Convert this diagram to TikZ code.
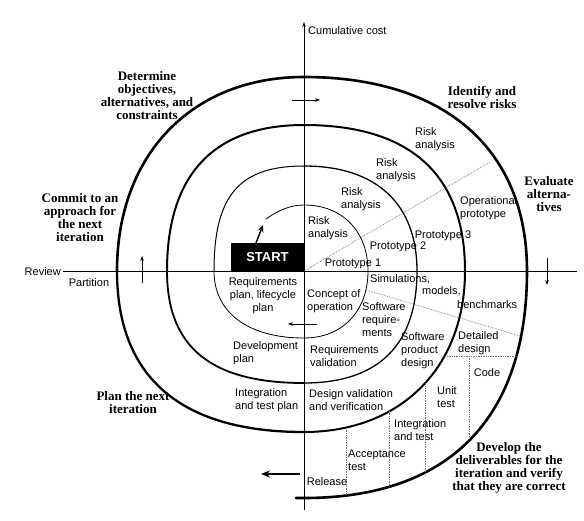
\documentclass[tikz,border=0pt]{standalone}
\usepackage{fontspec}
\setmainfont{Liberation Sans}
\newfontfamily\labelserif{Liberation Serif}
\usetikzlibrary{arrows.meta}
\begin{document}
\begin{tikzpicture}[x=1pt,y=-1pt,
  lbl/.style={inner sep=0pt, font=\fontsize{11}{13}\selectfont},
  lbll/.style={lbl, align=left, anchor=west},
  lblc/.style={lbl, align=center},
  boldlbl/.style={inner sep=0pt, align=center, font=\labelserif\bfseries\fontsize{13}{13}\selectfont},
  dots/.style={densely dotted, black!55, line width=0.7pt},
  spiral/.style={line cap=round, line join=round},
  axis/.style={line width=0.6pt},
  smallarrow/.style={-{Stealth[length=5pt,width=3.5pt]}, line width=0.6pt},
]
\useasboundingbox (0,0) rectangle (584,520);

% axes
\coordinate (axtop) at (304,22);
\coordinate (axbot) at (304,510);
\coordinate (axleft) at (63,271);
\coordinate (axright) at (577,271);
\draw[axis, -{Stealth[length=5pt,width=3.5pt]}] (axbot) -- (axtop);
\draw[axis] (axleft) -- (axright);

% START box
\node[fill=black, minimum width=73pt, minimum height=28pt, inner sep=0pt, text=white,
      font=\bfseries\fontsize{13}{13}\selectfont] (start) at (267.5,257) {START};

% spiral
\draw[spiral, line width=0.8pt] (266,219) .. controls (280,209) and (292,205) .. (304,205)
  .. controls (342.4,205) and (368,231.4) .. (368,271)
  .. controls (368,311.2) and (342.4,338) .. (304,338)
  .. controls (248.2,338) and (214,312.5) .. (214,271);
\draw[spiral, line width=1.0pt] (214,271) .. controls (214,195.4) and (239.2,166) .. (304,166);
\draw[spiral, line width=1.3pt] (304,166) .. controls (376.3,166) and (417,203.8) .. (417,271)
  .. controls (417,344.9) and (378.6,383) .. (304,383);
\draw[spiral, line width=1.8pt] (304,383) .. controls (210.8,383) and (167,347.2) .. (167,271);
\draw[spiral, line width=2.0pt] (167,271) .. controls (167,174.6) and (213.6,125) .. (304,125)
  .. controls (410.3,125) and (465,174.6) .. (465,271)
  .. controls (465,367.6) and (400.6,432) .. (304,432);
\draw[spiral, line width=2.3pt] (304,432) .. controls (180.6,432) and (117,377.3) .. (117,271);
\draw[spiral, line width=2.6pt] (117,271) .. controls (117,154.6) and (191.8,77) .. (304,77)
  .. controls (444.5,77) and (527,148.8) .. (527,271)
  .. controls (527,418.6) and (449,498) .. (304,498) -- (296,498);

% arrow from START
\coordinate (sarrtail) at (256,243);
\coordinate (sarrtip) at (263,225);
\draw[-{Stealth[length=7pt,width=6pt]}, line width=1.4pt] (sarrtail) -- (sarrtip);

% direction arrows
\coordinate (ta1) at (292,100); \coordinate (ta2) at (320,100);
\draw[smallarrow] (ta1) -- (ta2);
\coordinate (la1) at (142,283); \coordinate (la2) at (142,256);
\draw[smallarrow] (la1) -- (la2);
\coordinate (ra1) at (547,258); \coordinate (ra2) at (547,285);
\draw[smallarrow] (ra1) -- (ra2);
\coordinate (ia1) at (317,324); \coordinate (ia2) at (288,324);
\draw[smallarrow] (ia1) -- (ia2);
\coordinate (ba1) at (300,474); \coordinate (ba2) at (261,474);
\draw[-{Stealth[length=9pt,width=7pt]}, line width=1.8pt] (ba1) -- (ba2);

% dotted lines
\coordinate (c0) at (304,271);
\coordinate (d1) at (490,162);
\draw[dots] (c0) -- (d1);
\coordinate (d2a) at (366,290); \coordinate (d2b) at (520,336);
\draw[dots] (d2a) -- (d2b);
\coordinate (d3a) at (447,356); \coordinate (d3b) at (518,356);
\draw[dots] (d3a) -- (d3b);
\coordinate (d4a) at (469,356); \coordinate (d4b) at (469,438);
\draw[dots] (d4a) -- (d4b);
\coordinate (d5a) at (425,381); \coordinate (d5b) at (425,475);
\draw[dots] (d5a) -- (d5b);
\coordinate (d6a) at (389,411); \coordinate (d6b) at (389,485);
\draw[dots] (d6a) -- (d6b);
\coordinate (d7a) at (346,428); \coordinate (d7b) at (346,495);
\draw[dots] (d7a) -- (d7b);

% bold quadrant labels
\node[boldlbl] (det) at (147,96) {Determine\\objectives,\\alternatives, and\\constraints};
\node[boldlbl] (commit) at (80,218) {Commit to an\\approach for\\the next\\iteration};
\node[boldlbl] (ident) at (482,97) {Identify and\\resolve risks};
\node[boldlbl] (evalu) at (549,194) {Evaluate\\alterna-\\tives};
\node[boldlbl] (plannext) at (133,403) {Plan the next\\iteration};
\node[boldlbl] (develop) at (509,468) {Develop the\\deliverables for the\\iteration and verify\\that they are correct};

% axis labels
\node[lbl, anchor=west] (cumcost) at (308,31) {Cumulative cost};
\node[lbl, anchor=east] (review) at (61,272) {Review};
\node[lbl] (partition) at (89,283) {Partition};

% risk analyses and prototypes
\node[lbll] (risk1) at (308,228) {Risk\\analysis};
\node[lbll] (risk2) at (341,199) {Risk\\analysis};
\node[lbll] (risk3) at (376,170) {Risk\\analysis};
\node[lbll] (risk4) at (415,139) {Risk\\analysis};
\node[lbl] (proto1) at (353,264) {Prototype 1};
\node[lbl] (proto2) at (398,247) {Prototype 2};
\node[lbl] (proto3) at (443,236) {Prototype 3};
\node[lbll] (opproto) at (460,208) {Operational\\prototype};

% lower right
\node[lbl, anchor=west] (sim) at (370,279) {Simulations,};
\node[lbl, anchor=west] (models) at (422,291) {models,};
\node[lbl, anchor=west] (bench) at (457,305) {benchmarks};
\node[lbll] (concept) at (307,301) {Concept of\\operation};
\node[lbll] (swreq) at (362,320) {Software\\require-\\ments};
\node[lbll] (swprod) at (401,351) {Software\\product\\design};
\node[lbll] (detdes) at (458,343) {Detailed\\design};
\node[lbl] (code) at (487,373) {Code};
\node[lbll] (unit) at (437,397) {Unit\\test};
\node[lbll] (integ) at (394,430) {Integration\\and test};
\node[lbll] (accept) at (348,460) {Acceptance\\test};
\node[lbl] (release) at (327,482) {Release};
\node[lbll] (desval) at (309,400) {Design validation\\and verification};
\node[lbll] (reqval) at (310,356) {Requirements\\validation};

% lower left
\node[lblc] (reqplan) at (263,296) {Requirements\\plan, lifecycle\\plan};
\node[lbll] (devplan) at (233,353) {Development\\plan};
\node[lbll] (intplan) at (235,400) {Integration\\and test plan};
\end{tikzpicture}
\end{document}
